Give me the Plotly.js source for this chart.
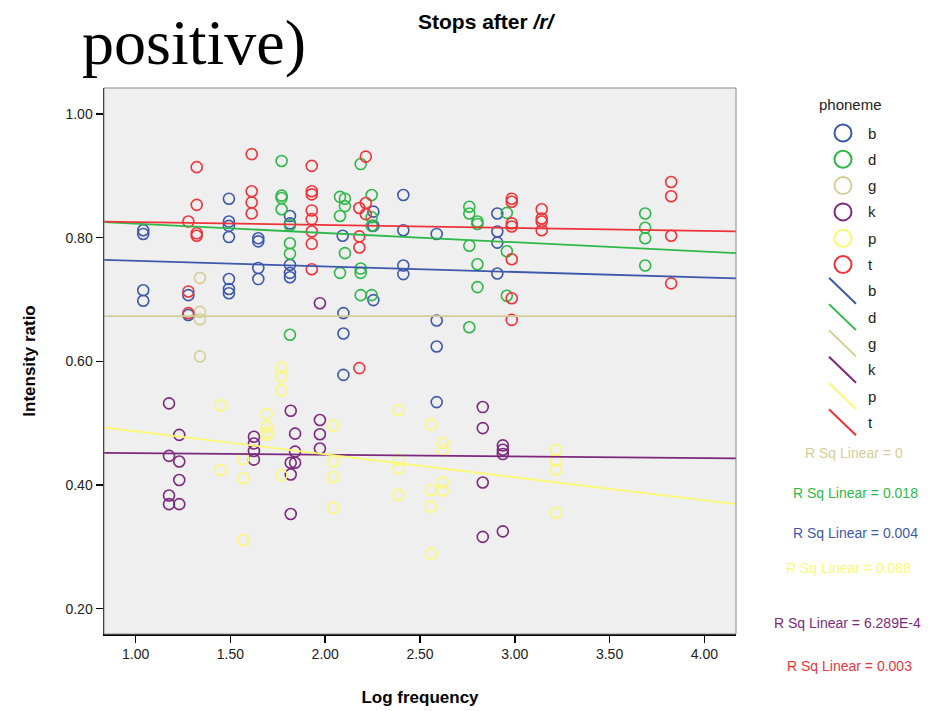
<!DOCTYPE html>
<html><head><meta charset="utf-8">
<script src="https://cdn.plot.ly/plotly-3.0.1.min.js"></script>
<style>html,body{margin:0;padding:0;background:#fff;}#chart{width:950px;height:711px;}</style>
</head><body><div id="chart"></div>
<script>
// ---- data ----
const phonemes = ["b", "d", "g", "k", "p", "t"];
const colors = ["#3E58AC", "#2EB848", "#D3CE97", "#7C287D", "#FBF873", "#EF3338"];

const bX = [1.040,1.040,1.040,1.040,1.278,1.278,1.492,1.492,1.492,1.492,1.492,1.492,1.492,1.647,1.647,1.647,1.647,1.814,1.814,1.814,1.814,1.814,2.092,2.096,2.096,2.096,2.254,2.254,2.254,2.412,2.412,2.412,2.412,2.588,2.588,2.588,2.588,2.908,2.908,2.908,2.908];
const bY = [0.812,0.806,0.715,0.698,0.707,0.675,0.863,0.826,0.819,0.801,0.733,0.717,0.710,0.799,0.794,0.751,0.733,0.835,0.823,0.756,0.743,0.736,0.803,0.678,0.645,0.578,0.842,0.819,0.699,0.869,0.812,0.755,0.741,0.806,0.666,0.624,0.534,0.839,0.810,0.792,0.742];

const dX = [1.770,1.770,1.770,1.770,1.814,1.814,1.814,1.814,2.078,2.078,2.078,2.104,2.104,2.104,2.187,2.187,2.187,2.187,2.245,2.245,2.245,2.245,2.760,2.760,2.760,2.760,2.803,2.803,2.803,2.803,2.958,2.958,2.958,3.688,3.688,3.688,3.688];
const dY = [0.924,0.868,0.864,0.846,0.820,0.791,0.774,0.643,0.866,0.835,0.743,0.863,0.851,0.775,0.919,0.750,0.743,0.707,0.869,0.833,0.819,0.707,0.850,0.839,0.787,0.655,0.826,0.822,0.757,0.720,0.840,0.778,0.706,0.839,0.816,0.799,0.755];

const gX = [1.339,1.339,1.339,1.339];
const gY = [0.735,0.680,0.668,0.608];

const kX = [1.176,1.176,1.176,1.176,1.230,1.230,1.230,1.230,1.624,1.624,1.624,1.624,1.818,1.818,1.818,1.818,1.841,1.841,1.841,1.972,1.972,1.972,1.972,2.831,2.831,2.831,2.831,2.937,2.937,2.937,2.937];
const kY = [0.532,0.447,0.383,0.369,0.481,0.438,0.408,0.369,0.478,0.467,0.455,0.441,0.520,0.436,0.417,0.353,0.483,0.454,0.436,0.694,0.505,0.482,0.459,0.526,0.492,0.404,0.316,0.464,0.457,0.450,0.325];

const pX = [1.449,1.449,1.568,1.568,1.568,1.691,1.691,1.691,1.691,1.770,1.770,1.770,1.770,2.043,2.043,2.043,2.043,2.386,2.386,2.386,2.386,2.558,2.558,2.558,2.558,2.620,2.620,2.620,2.620,3.218,3.218,3.218,3.218];
const pY = [0.529,0.424,0.442,0.411,0.311,0.515,0.494,0.485,0.481,0.590,0.575,0.553,0.416,0.496,0.438,0.413,0.363,0.521,0.441,0.427,0.384,0.498,0.392,0.365,0.289,0.468,0.457,0.404,0.391,0.457,0.440,0.425,0.355];

const tX = [1.278,1.278,1.278,1.322,1.322,1.322,1.322,1.612,1.612,1.612,1.612,1.929,1.929,1.929,1.929,1.929,1.929,1.929,1.929,2.180,2.180,2.180,2.180,2.214,2.214,2.214,2.984,2.984,2.984,2.984,2.984,2.984,2.984,3.142,3.142,3.142,3.142,3.825,3.825,3.825,3.825];
const tY = [0.826,0.713,0.678,0.914,0.853,0.807,0.803,0.935,0.875,0.857,0.839,0.916,0.875,0.870,0.844,0.830,0.810,0.790,0.749,0.848,0.802,0.784,0.589,0.931,0.856,0.838,0.863,0.858,0.823,0.818,0.765,0.702,0.667,0.846,0.831,0.826,0.812,0.890,0.867,0.803,0.726];

// fit-line values at the left and right edge of the x range
const xRange = [0.833, 4.167];
const fitLeft  = [0.764, 0.825, 0.673, 0.452, 0.493, 0.826];
const fitRight = [0.734, 0.775, 0.673, 0.443, 0.369, 0.810];

// R squared labels, in the order shown
const rsqOrder = ["g", "d", "b", "p", "k", "t"];
const rsqText  = ["R Sq Linear = 0", "R Sq Linear = 0.018", "R Sq Linear = 0.004", "R Sq Linear = 0.088", "R Sq Linear = 6.289E-4", "R Sq Linear = 0.003"];

// ---- build figure ----
const xs = [bX, dX, gX, kX, pX, tX];
const ys = [bY, dY, gY, kY, pY, tY];
const FONT = "Liberation Sans, Arial, sans-serif";

const traces = [];
phonemes.forEach((ph, i) => {
  traces.push({
    type: "scatter", mode: "markers", x: xs[i], y: ys[i], name: ph, showlegend: false,
    marker: {symbol: "circle-open", size: 11, color: colors[i], line: {width: 1.6, color: colors[i]}},
    hoverinfo: "x+y"
  });
});
phonemes.forEach((ph, i) => {
  traces.push({
    type: "scatter", mode: "lines", x: xRange, y: [fitLeft[i], fitRight[i]], name: ph, showlegend: false,
    line: {color: colors[i], width: 1.8}, hoverinfo: "skip"
  });
});

// plot area in pixels
const L = 104, R = 736, T = 88, B = 634;
const W = R - L, H = B - T;
const px = v => (v - L) / W;
const py = v => (B - v) / H;

const shapes = [
  {type: "rect", xref: "paper", yref: "paper", x0: 0, x1: 1, y0: 0, y1: 1, line: {color: "#8a8a8a", width: 1}, layer: "above"}
];
const annotations = [];

// title and stray slide text
annotations.push({xref: "paper", yref: "paper", x: px(487), y: py(22), text: "<b>Stops after <i>/r/</i></b>", showarrow: false,
  font: {family: FONT, size: 21, color: "#000"}, xanchor: "center", yanchor: "middle"});
annotations.push({xref: "paper", yref: "paper", x: px(80), y: py(42), text: "positive)", showarrow: false,
  font: {family: "Liberation Serif, Times New Roman, serif", size: 64, color: "#000"}, xanchor: "left", yanchor: "middle"});

// legend
annotations.push({xref: "paper", yref: "paper", x: px(850), y: py(104), text: "phoneme", showarrow: false,
  font: {family: FONT, size: 15, color: "#222"}, xanchor: "center", yanchor: "middle"});
const rowY0 = 133, rowStep = 26.3;
phonemes.forEach((ph, i) => {
  const cy = rowY0 + i * rowStep;
  shapes.push({type: "circle", xref: "paper", yref: "paper", x0: px(843 - 8.5), x1: px(843 + 8.5), y0: py(cy + 8.5), y1: py(cy - 8.5),
    line: {color: colors[i], width: 2}});
  annotations.push({xref: "paper", yref: "paper", x: px(866), y: py(cy), text: ph, showarrow: false,
    font: {family: FONT, size: 15, color: "#222"}, xanchor: "left", yanchor: "middle"});
});
phonemes.forEach((ph, i) => {
  const cy = rowY0 + (6 + i) * rowStep;
  shapes.push({type: "line", xref: "paper", yref: "paper", x0: px(829), x1: px(856), y0: py(cy - 13), y1: py(cy + 13),
    line: {color: colors[i], width: 2}});
  annotations.push({xref: "paper", yref: "paper", x: px(866), y: py(cy), text: ph, showarrow: false,
    font: {family: FONT, size: 15, color: "#222"}, xanchor: "left", yanchor: "middle"});
});

// R Sq labels
const rsqPos = [[854, 453], [856, 493], [856, 533], [848, 568], [847, 623], [849, 666]];
rsqOrder.forEach((ph, j) => {
  const i = phonemes.indexOf(ph);
  annotations.push({xref: "paper", yref: "paper", x: px(rsqPos[j][0]), y: py(rsqPos[j][1]), text: rsqText[j], showarrow: false,
    font: {family: FONT, size: 14, color: colors[i]}, xanchor: "center", yanchor: "middle"});
});

const layout = {
  width: 950, height: 711,
  margin: {l: L, r: 950 - R, t: T, b: 711 - B, pad: 0},
  paper_bgcolor: "#ffffff", plot_bgcolor: "#efefef",
  showlegend: false,
  font: {family: FONT, color: "#222"},
  xaxis: {
    range: xRange, tickvals: [1, 1.5, 2, 2.5, 3, 3.5, 4], tickformat: ".2f",
    showgrid: false, zeroline: false, showline: true, linecolor: "#000", linewidth: 1.5,
    ticks: "outside", ticklen: 7, tickwidth: 1.5, tickcolor: "#000",
    tickfont: {family: FONT, size: 14, color: "#222"},
    title: {text: "<b>Log frequency</b>", font: {family: FONT, size: 17, color: "#000"}, standoff: 30}
  },
  yaxis: {
    range: [0.159, 1.042], tickvals: [0.2, 0.4, 0.6, 0.8, 1.0], tickformat: ".2f",
    showgrid: false, zeroline: false, showline: true, linecolor: "#000", linewidth: 1.5,
    ticks: "outside", ticklen: 7, tickwidth: 1.5, tickcolor: "#000",
    tickfont: {family: FONT, size: 14, color: "#222"},
    title: {text: "<b>Intensity ratio</b>", font: {family: FONT, size: 17, color: "#000"}, standoff: 25}
  },
  shapes: shapes,
  annotations: annotations
};

Plotly.newPlot("chart", traces, layout, {displayModeBar: false, staticPlot: true});
</script>
</body></html>
